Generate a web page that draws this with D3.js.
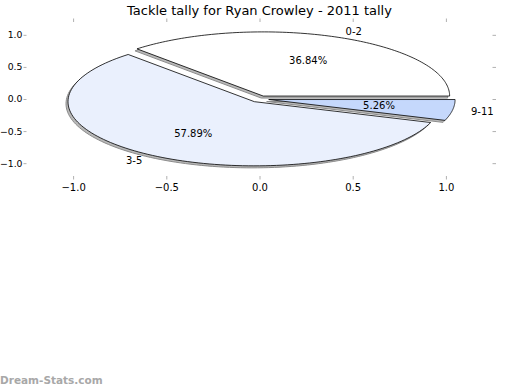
<!DOCTYPE html>
<html><head><meta charset="utf-8">
<script src="https://cdn.jsdelivr.net/npm/d3@7"></script>
<style>body{margin:0;background:#fff}svg{display:block}text{font-family:"DejaVu Sans",sans-serif}</style>
</head><body><svg id="c" width="520" height="390"></svg>
<script>
const categories = ["0-2", "3-5", "9-11"];
const values = [7, 11, 1];
const pctLabels = ["36.84%", "57.89%", "5.26%"];
const colors = ["#ffffff", "#eaf0fd", "#c5d8fc"];
const explode = [0.05, 0.05, 0.05];
const xTicks = [-1.0, -0.5, 0.0, 0.5, 1.0];
const yTicks = [1.0, 0.5, 0.0, -0.5, -1.0];
const title = "Tackle tally for Ryan Crowley - 2011 tally";

const svg = d3.select("#c");
const x = d3.scaleLinear().domain([-1.25, 1.25]).range([26.5, 492.5]);
const y = d3.scaleLinear().domain([-1.2, 1.2]).range([176, 22]);

const pie = d3.pie().sort(null).startAngle(Math.PI/2).endAngle(Math.PI/2 - 2*Math.PI);
const arcs = pie(values);

function wedgePts(d, i) {
  const t1 = Math.PI/2 - d.startAngle, t2 = Math.PI/2 - d.endAngle;
  const tm = (t1 + t2)/2;
  const cx = explode[i]*Math.cos(tm), cy = explode[i]*Math.sin(tm);
  const pts = [[cx, cy]];
  const n = 120;
  for (let k = 0; k <= n; k++) {
    const t = t1 + (t2 - t1)*k/n;
    pts.push([cx + Math.cos(t), cy + Math.sin(t)]);
  }
  return {pts, cx, cy, tm};
}
const line = d3.line().x(p => x(p[0])).y(p => y(p[1])).curve(d3.curveLinearClosed);
const wedges = arcs.map((d, i) => wedgePts(d, i));

// shadows
const sh = svg.append("g").attr("transform", "translate(-2,2)");
wedges.forEach((w, i) => {
  sh.append("path").attr("d", line(w.pts))
    .attr("fill", "#b8b8b8").attr("stroke", "#8c8c8c").attr("stroke-width", 1)
    .attr("stroke-linejoin", "miter");
});
// wedges
wedges.forEach((w, i) => {
  svg.append("path").attr("d", line(w.pts))
    .attr("fill", colors[i]).attr("stroke", "#000").attr("stroke-width", 0.8)
    .attr("stroke-linejoin", "miter");
});
// labels
wedges.forEach((w, i) => {
  const xt = w.cx + 1.1*Math.cos(w.tm), yt = w.cy + 1.1*Math.sin(w.tm);
  svg.append("text").attr("x", x(xt)).attr("y", y(yt)).attr("dy", "0.35em")
    .attr("text-anchor", xt > 0 ? "start" : "end").attr("font-size", 10).text(categories[i]);
  const xp = w.cx + 0.6*Math.cos(w.tm), yp = w.cy + 0.6*Math.sin(w.tm);
  svg.append("text").attr("x", x(xp)).attr("y", y(yp)).attr("dy", "0.35em")
    .attr("text-anchor", "middle").attr("font-size", 10).text(pctLabels[i]);
});

// axes (no spines, gray ticks)
const fmt = v => d3.format(".1f")(v).replace("-", "\u2212");
function styleAxis(g, showLabels, fs) {
  g.select(".domain").remove();
  g.selectAll(".tick line").attr("stroke", "#b0b0b0").attr("stroke-width", 1);
  g.selectAll(".tick text").attr("font-size", fs || 10).attr("fill", "#000")
    .attr("font-family", "DejaVu Sans").style("display", showLabels ? null : "none");
}
svg.append("g").attr("transform", `translate(0,${y.range()[0]})`)
  .call(d3.axisBottom(x).tickValues(xTicks).tickFormat(fmt).tickSize(3.5).tickPadding(4))
  .call(g => styleAxis(g, true));
svg.append("g").attr("transform", `translate(0,${y.range()[1]})`)
  .call(d3.axisTop(x).tickValues(xTicks).tickSize(3.5))
  .call(g => styleAxis(g, false));
svg.append("g").attr("transform", `translate(${x.range()[0]},0)`)
  .call(d3.axisLeft(y).tickValues(yTicks).tickFormat(fmt).tickSize(3).tickPadding(1))
  .call(g => styleAxis(g, true, 9.3));
svg.append("g").attr("transform", `translate(${x.range()[1]},0)`)
  .call(d3.axisRight(y).tickValues(yTicks).tickSize(3.5))
  .call(g => styleAxis(g, false));

svg.append("text").attr("x", 259.5).attr("y", 15).attr("text-anchor", "middle")
  .attr("font-size", 13).text(title);
svg.append("text").attr("x", 0).attr("y", 384).attr("font-size", 10.5)
  .attr("font-weight", "bold").attr("fill", "#a8a8a8")
  .attr("font-family", "'Open Sans', 'DejaVu Sans', sans-serif").text("Dream-Stats.com");
</script></body></html>
